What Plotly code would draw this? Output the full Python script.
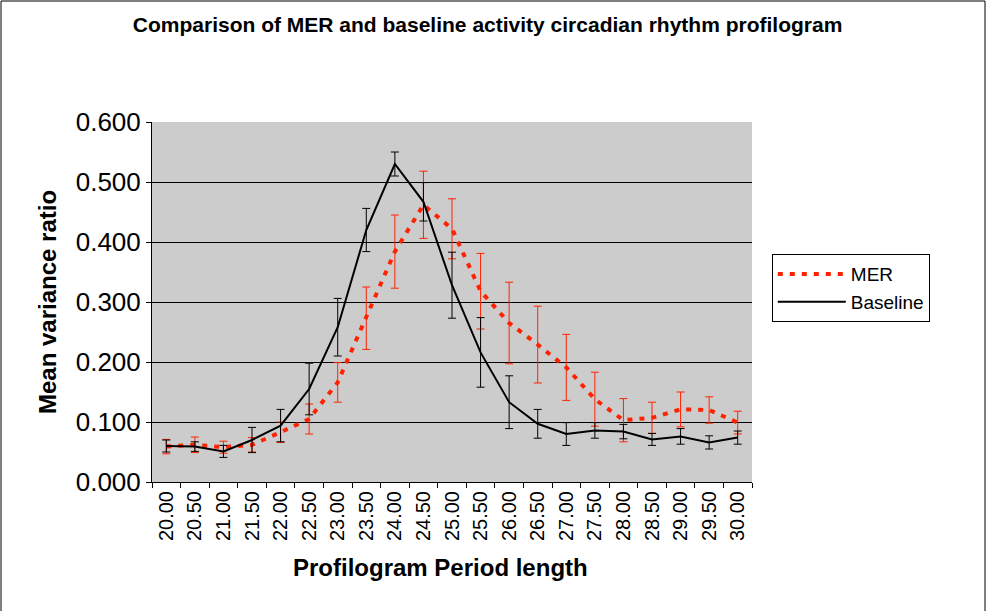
import plotly.graph_objects as go

# profilogram period lengths (categories)
periods = ["20.00", "20.50", "21.00", "21.50", "22.00", "22.50", "23.00", "23.50",
           "24.00", "24.50", "25.00", "25.50", "26.00", "26.50", "27.00", "27.50",
           "28.00", "28.50", "29.00", "29.50", "30.00"]

mer = [0.059, 0.062, 0.058, 0.062, 0.083, 0.105, 0.166, 0.273, 0.384, 0.462, 0.422,
       0.318, 0.265, 0.229, 0.191, 0.138, 0.103, 0.107, 0.121, 0.120, 0.099]
mer_err = [0.012, 0.013, 0.010, 0.012, 0.017, 0.025, 0.033, 0.052, 0.061, 0.056, 0.050,
           0.063, 0.068, 0.064, 0.055, 0.045, 0.036, 0.026, 0.029, 0.022, 0.019]

baseline = [0.060, 0.059, 0.051, 0.070, 0.094, 0.155, 0.258, 0.420, 0.530, 0.467, 0.328,
            0.216, 0.133, 0.097, 0.080, 0.086, 0.084, 0.071, 0.076, 0.066, 0.074]
baseline_err = [0.010, 0.008, 0.010, 0.021, 0.027, 0.043, 0.048, 0.036, 0.020, 0.032, 0.055,
                0.058, 0.044, 0.024, 0.019, 0.013, 0.012, 0.010, 0.013, 0.011, 0.011]

FONT = "Arial, Liberation Sans, sans-serif"

fig = go.Figure()
fig.add_trace(go.Scatter(
    name="MER",
    x=periods,
    y=mer,
    mode="lines",
    line=dict(color="#FF2200", width=4, dash="5px,7px"),
    error_y=dict(type="data", array=mer_err, visible=True,
                 color="#FF2200", thickness=1, width=4),
))
fig.add_trace(go.Scatter(
    name="Baseline",
    x=periods,
    y=baseline,
    mode="lines",
    line=dict(color="black", width=2),
    error_y=dict(type="data", array=baseline_err, visible=True,
                 color="black", thickness=1, width=4),
))

# outer chart border (left, top, right edges)
fig.add_shape(type="rect", xref="paper", yref="paper",
              x0=(1 - 152) / 600, x1=(985 - 152) / 600,
              y0=(482 - 640) / 360, y1=(482 - 1) / 360,
              line=dict(color="black", width=1), layer="below")

# x axis title, placed like the original (slightly left of centre)
fig.add_annotation(text="<b>Profilogram Period length</b>", xref="paper", yref="paper",
                   x=(440 - 152) / 600, y=(482 - 567) / 360,
                   xanchor="center", yanchor="middle", showarrow=False,
                   font=dict(size=24))

fig.update_layout(
    width=987,
    height=611,
    margin=dict(l=152, r=235, t=122, b=129),
    paper_bgcolor="white",
    plot_bgcolor="#CCCCCC",
    font=dict(family=FONT, color="black"),
    title=dict(text="<b>Comparison of MER and baseline activity circadian rhythm profilogram</b>",
               font=dict(size=21), x=0.494, xanchor="center", y=0.959, yanchor="middle"),
    showlegend=True,
    legend=dict(x=1.033, y=0.633, xanchor="left", yanchor="top",
                bgcolor="white", bordercolor="black", borderwidth=1,
                font=dict(size=19), itemwidth=68, tracegroupgap=0),
    xaxis=dict(
        type="category",
        range=[-0.5, len(periods) - 0.5],
        tickangle=-90,
        tickfont=dict(size=20),
        showline=True, linecolor="black", linewidth=1, mirror=False,
        ticks="outside", tickson="boundaries", ticklen=5, tickcolor="black",
        showgrid=False,
    ),
    yaxis=dict(
        range=[0, 0.6],
        dtick=0.1,
        tickformat=".3f",
        tickfont=dict(size=26),
        title=dict(text="<b>Mean variance ratio</b>", font=dict(size=24), standoff=12),
        showline=True, linecolor="black", linewidth=1,
        ticks="outside", ticklen=5, tickcolor="black",
        showgrid=True, gridcolor="black", gridwidth=1,
        zeroline=False,
    ),
)

fig.write_html("out.html", config={"displayModeBar": False},
               post_script="document.body.style.margin='0';")
